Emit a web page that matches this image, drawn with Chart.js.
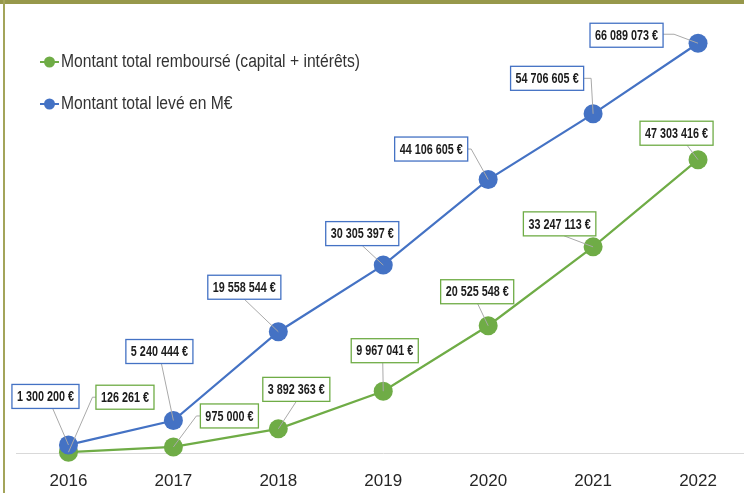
<!DOCTYPE html>
<html>
<head>
<meta charset="utf-8">
<script src="https://cdn.jsdelivr.net/npm/chart.js@4"></script>
<style>
  html, body { margin: 0; padding: 0; background: #fff; overflow: hidden; }
  #wrap { position: relative; width: 760px; height: 493px; overflow: hidden; }
  #topBar { position: absolute; left: 0; top: 0; width: 760px; height: 4px; background: #97984b; }
  #leftBar { position: absolute; left: 3px; top: 0; width: 2px; height: 493px; background: #a3a45a; }
  canvas { position: absolute; left: 0; top: 0; }
</style>
</head>
<body>
<div id="wrap">
  <canvas id="chart" width="760" height="493" style="width:760px;height:493px"></canvas>
  <div id="topBar"></div>
  <div id="leftBar"></div>
</div>
<script>
// Chart data
const years = ['2016', '2017', '2018', '2019', '2020', '2021', '2022'];
const rembourse = [126261, 975000, 3892363, 9967041, 20525548, 33247113, 47303416];
const leve = [1300200, 5240444, 19558544, 30305397, 44106605, 54706605, 66089073];
const seriesNames = ['Montant total remboursé (capital + intérêts)', 'Montant total levé en M€'];

const GREEN = '#6fac46';
const BLUE = '#4472c4';
const FONT = '"Liberation Sans", Arial, sans-serif';
const CONDENSE = 0.72;

// label box placement relative to each point: [dx, dy, leaderX, leaderY, stub]
const greenLabelPos = [
  [56.5, -55, -28.5, 0, -4],
  [56, -31, -29, 0, -4],
  [18, -39.5, 0, 12, 0],
  [1.5, -40.5, -2, 12, 0],
  [-11, -34, 0, 11, 0],
  [-33.5, -23, 4.5, 12, 0],
  [-21.5, -26.5, 10.5, 12, 0]
];
const blueLabelPos = [
  [-23, -48.5, 7, 11.5, 0],
  [-14, -69, 2, 12, 0],
  [-34, -44.5, 0, 12, 0],
  [-21, -31.5, 0, 12, 0],
  [-57, -30.5, 36, 0, 4],
  [-46, -35.5, 36, 0, 8],
  [-71.5, -8, 35.5, -1, 12]
];

function euro(n) {
  return String(n).replace(/\B(?=(\d{3})+(?!\d))/g, ' ') + ' €';
}

const labelPlugin = {
  id: 'valueLabels',
  afterDatasetsDraw(chart) {
    const ctx = chart.ctx;
    ctx.save();
    ctx.font = 'bold 15px ' + FONT;
    ctx.textAlign = 'center';
    ctx.textBaseline = 'middle';
    chart.data.datasets.forEach((ds, di) => {
      const meta = chart.getDatasetMeta(di);
      const pos = ds.labelPos;
      meta.data.forEach((pt, i) => {
        const [dx, dy, ax, ay, stub] = pos[i];
        const cx = pt.x + dx, cy = pt.y + dy;
        const txt = euro(ds.data[i]);
        const w = ctx.measureText(txt).width * CONDENSE + 10;
        const h = 24;
        // leader line
        const sx = cx + ax, sy = cy + ay;
        ctx.strokeStyle = '#a9a9a9';
        ctx.lineWidth = 1;
        ctx.beginPath();
        ctx.moveTo(sx, sy);
        if (stub) ctx.lineTo(sx + stub, sy);
        ctx.lineTo(pt.x, pt.y);
        ctx.stroke();
        // box
        ctx.fillStyle = '#fff';
        ctx.fillRect(cx - w / 2, cy - h / 2, w, h);
        ctx.strokeStyle = ds.borderColor;
        ctx.lineWidth = 1.3;
        ctx.strokeRect(cx - w / 2, cy - h / 2, w, h);
        ctx.save();
        ctx.translate(cx, cy + 0.5);
        ctx.scale(CONDENSE, 1);
        ctx.fillStyle = '#1c1c1c';
        ctx.fillText(txt, 0, 0);
        ctx.restore();
      });
    });
    ctx.restore();
  }
};

const legendPlugin = {
  id: 'sideLegend',
  afterDraw(chart) {
    const ctx = chart.ctx;
    const rows = [[seriesNames[0], GREEN, 62], [seriesNames[1], BLUE, 104]];
    ctx.save();
    rows.forEach(([name, col, y]) => {
      ctx.strokeStyle = col;
      ctx.lineWidth = 2;
      ctx.beginPath();
      ctx.moveTo(40, y);
      ctx.lineTo(59, y);
      ctx.stroke();
      ctx.fillStyle = col;
      ctx.beginPath();
      ctx.arc(49.5, y, 5.5, 0, Math.PI * 2);
      ctx.fill();
      ctx.save();
      ctx.translate(61, y + 0.5);
      ctx.scale(0.87, 1);
      ctx.fillStyle = '#333';
      ctx.font = '18px ' + FONT;
      ctx.textAlign = 'left';
      ctx.textBaseline = 'middle';
      ctx.fillText(name, 0, 0);
      ctx.restore();
    });
    ctx.restore();
  }
};

new Chart(document.getElementById('chart'), {
  type: 'line',
  data: {
    labels: years,
    datasets: [
      {
        label: seriesNames[0],
        data: rembourse,
        borderColor: GREEN,
        backgroundColor: GREEN,
        borderWidth: 2.2,
        pointRadius: 9.5,
        pointBorderWidth: 0,
        pointBackgroundColor: GREEN,
        labelPos: greenLabelPos,
        order: 1,
        clip: false
      },
      {
        label: seriesNames[1],
        data: leve,
        borderColor: BLUE,
        backgroundColor: BLUE,
        borderWidth: 2.2,
        pointRadius: 9.5,
        pointBorderWidth: 0,
        pointBackgroundColor: BLUE,
        labelPos: blueLabelPos,
        order: 0,
        clip: false
      }
    ]
  },
  options: {
    responsive: false,
    devicePixelRatio: 1,
    animation: false,
    events: [],
    layout: { padding: { left: 16, right: 0, top: 19, bottom: 0 } },
    plugins: {
      legend: { display: false },
      tooltip: { enabled: false }
    },
    scales: {
      x: {
        offset: true,
        grid: { display: false, drawTicks: false },
        border: { display: true, color: '#d9d9d9', width: 1 },
        ticks: {
          color: '#262626',
          padding: 18,
          maxRotation: 0,
          font: { family: FONT, size: 17 }
        },
        afterFit(scale) { scale.height = 40; }
      },
      y: {
        display: false,
        min: 0,
        max: 70000000
      }
    }
  },
  plugins: [labelPlugin, legendPlugin]
});
</script>
</body>
</html>
